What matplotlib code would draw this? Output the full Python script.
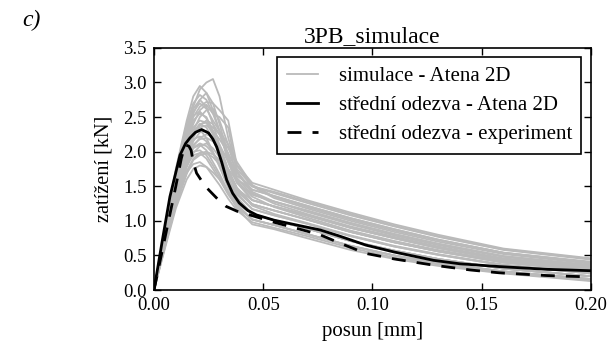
import matplotlib
matplotlib.use('Agg')
import matplotlib.pyplot as plt

plt.rcParams['font.family'] = ['Liberation Serif', 'DejaVu Serif']

# common x grid of the simulation curves [mm]
x_sim = [0, 0.005, 0.010, 0.015, 0.018, 0.021, 0.024, 0.027, 0.030, 0.034,
         0.038, 0.045, 0.055, 0.070, 0.090, 0.110, 0.130, 0.160, 0.200]

# load [kN] of the single simulations
sim_1 = [0, 0.85, 1.65, 2.30, 2.65, 2.90, 3.00, 3.05, 2.80, 2.20, 1.75, 1.50, 1.40, 1.26, 1.08, 0.92, 0.77, 0.58, 0.44]
sim_2 = [0, 0.90, 1.75, 2.45, 2.80, 2.95, 2.85, 2.60, 2.30, 1.85, 1.55, 1.30, 1.21, 1.08, 0.90, 0.75, 0.61, 0.44, 0.32]
sim_3 = [0, 0.80, 1.60, 2.25, 2.55, 2.75, 2.85, 2.70, 2.40, 1.95, 1.62, 1.38, 1.28, 1.15, 0.97, 0.81, 0.67, 0.49, 0.36]
sim_4 = [0, 0.85, 1.70, 2.35, 2.62, 2.75, 2.65, 2.40, 2.10, 1.75, 1.48, 1.24, 1.15, 1.02, 0.84, 0.69, 0.56, 0.40, 0.28]
sim_5 = [0, 0.75, 1.50, 2.10, 2.40, 2.60, 2.68, 2.55, 2.30, 1.90, 1.60, 1.45, 1.36, 1.22, 1.04, 0.88, 0.73, 0.54, 0.40]
sim_6 = [0, 0.80, 1.55, 2.15, 2.45, 2.55, 2.50, 2.30, 2.05, 1.70, 1.40, 1.17, 1.08, 0.96, 0.78, 0.63, 0.51, 0.36, 0.24]
sim_7 = [0, 0.70, 1.45, 2.00, 2.30, 2.50, 2.60, 2.62, 2.45, 2.10, 1.65, 1.50, 1.42, 1.28, 1.10, 0.93, 0.78, 0.59, 0.45]
sim_8 = [0, 0.78, 1.52, 2.08, 2.35, 2.45, 2.42, 2.25, 2.00, 1.62, 1.32, 1.10, 1.01, 0.89, 0.71, 0.57, 0.45, 0.31, 0.20]
sim_9 = [0, 0.72, 1.40, 1.95, 2.20, 2.38, 2.45, 2.40, 2.25, 1.92, 1.58, 1.30, 1.21, 1.08, 0.90, 0.75, 0.61, 0.44, 0.32]
sim_10 = [0, 0.82, 1.58, 2.12, 2.30, 2.32, 2.20, 2.00, 1.78, 1.48, 1.24, 1.02, 0.94, 0.81, 0.64, 0.50, 0.39, 0.27, 0.16]
sim_11 = [0, 0.70, 1.38, 1.90, 2.15, 2.28, 2.30, 2.20, 2.00, 1.70, 1.45, 1.24, 1.15, 1.02, 0.84, 0.69, 0.56, 0.40, 0.28]
sim_12 = [0, 0.75, 1.45, 1.98, 2.18, 2.22, 2.15, 1.98, 1.80, 1.52, 1.30, 1.10, 1.01, 0.89, 0.71, 0.57, 0.45, 0.31, 0.20]
sim_13 = [0, 0.68, 1.32, 1.85, 2.08, 2.20, 2.25, 2.22, 2.10, 1.85, 1.55, 1.38, 1.28, 1.15, 0.97, 0.81, 0.67, 0.49, 0.36]
sim_14 = [0, 0.74, 1.40, 1.88, 2.05, 2.10, 2.02, 1.85, 1.68, 1.42, 1.18, 0.95, 0.88, 0.75, 0.58, 0.45, 0.35, 0.24, 0.13]
sim_15 = [0, 0.65, 1.28, 1.78, 1.98, 2.08, 2.12, 2.05, 1.92, 1.68, 1.42, 1.24, 1.15, 1.02, 0.84, 0.69, 0.56, 0.40, 0.28]
sim_16 = [0, 0.70, 1.35, 1.80, 1.95, 1.98, 1.90, 1.75, 1.60, 1.38, 1.20, 1.02, 0.94, 0.81, 0.64, 0.50, 0.39, 0.27, 0.16]
sim_17 = [0, 0.62, 1.22, 1.68, 1.88, 1.95, 1.98, 1.92, 1.82, 1.60, 1.38, 1.17, 1.08, 0.96, 0.78, 0.63, 0.51, 0.36, 0.24]
sim_18 = [0, 0.66, 1.25, 1.70, 1.82, 1.85, 1.78, 1.65, 1.52, 1.32, 1.15, 0.98, 0.90, 0.78, 0.61, 0.47, 0.37, 0.25, 0.14]
sim_19 = [0, 0.60, 1.18, 1.60, 1.75, 1.80, 1.78, 1.70, 1.60, 1.42, 1.25, 1.10, 1.01, 0.89, 0.71, 0.57, 0.45, 0.31, 0.20]
sim_20 = [0, 0.88, 1.72, 2.40, 2.70, 2.82, 2.75, 2.55, 2.50, 2.35, 1.70, 1.45, 1.36, 1.22, 1.04, 0.88, 0.73, 0.54, 0.40]
sim_21 = [0, 0.78, 1.55, 2.20, 2.50, 2.65, 2.72, 2.70, 2.60, 2.45, 1.80, 1.55, 1.45, 1.30, 1.12, 0.95, 0.80, 0.60, 0.46]
sim_22 = [0, 0.72, 1.42, 2.00, 2.28, 2.40, 2.35, 2.18, 1.95, 1.60, 1.34, 1.10, 1.01, 0.89, 0.71, 0.57, 0.45, 0.31, 0.20]
sim_23 = [0, 0.68, 1.30, 1.82, 2.00, 2.02, 1.95, 1.80, 1.64, 1.40, 1.20, 1.02, 0.94, 0.81, 0.64, 0.50, 0.39, 0.27, 0.16]
sim_24 = [0, 0.80, 1.60, 2.25, 2.52, 2.58, 2.48, 2.28, 2.05, 1.72, 1.46, 1.30, 1.21, 1.08, 0.90, 0.75, 0.61, 0.44, 0.32]
sim_25 = [0, 0.70, 1.38, 1.90, 2.10, 2.18, 2.20, 2.15, 2.05, 1.90, 1.70, 1.40, 1.25, 1.10, 0.92, 0.77, 0.63, 0.46, 0.34]
sim_26 = [0, 0.76, 1.50, 2.05, 2.28, 2.40, 2.42, 2.35, 2.25, 2.05, 1.80, 1.50, 1.33, 1.18, 1.00, 0.84, 0.70, 0.52, 0.38]
sim_27 = [0, 0.64, 1.25, 1.72, 1.90, 1.98, 2.00, 1.96, 1.88, 1.75, 1.58, 1.35, 1.20, 1.05, 0.86, 0.71, 0.58, 0.42, 0.30]
sim_28 = [0, 0.82, 1.62, 2.28, 2.58, 2.70, 2.62, 2.45, 2.30, 2.10, 1.85, 1.52, 1.35, 1.20, 1.02, 0.86, 0.72, 0.54, 0.41]
sim_29 = [0, 0.68, 1.34, 1.86, 2.06, 2.12, 2.08, 1.98, 1.86, 1.66, 1.46, 1.22, 1.10, 0.97, 0.79, 0.64, 0.52, 0.37, 0.25]
sim_30 = [0, 0.74, 1.46, 2.02, 2.25, 2.35, 2.38, 2.30, 2.18, 1.98, 1.72, 1.42, 1.28, 1.13, 0.95, 0.79, 0.65, 0.48, 0.35]

sims = [sim_1, sim_2, sim_3, sim_4, sim_5, sim_6, sim_7, sim_8, sim_9, sim_10,
        sim_11, sim_12, sim_13, sim_14, sim_15, sim_16, sim_17, sim_18, sim_19,
        sim_20, sim_21, sim_22, sim_23, sim_24, sim_25, sim_26, sim_27, sim_28,
        sim_29, sim_30]

# mean response of the simulations
x_mean = [0, 0.004, 0.0073, 0.010, 0.0119, 0.0145, 0.0165, 0.019, 0.0218, 0.025,
          0.027, 0.0287, 0.031, 0.0333, 0.036, 0.039, 0.043, 0.047, 0.055, 0.0668,
          0.076, 0.085, 0.097, 0.110, 0.128, 0.140, 0.158, 0.180, 0.200]
y_mean = [0, 0.75, 1.35, 1.70, 1.95, 2.12, 2.20, 2.28, 2.32, 2.27,
          2.18, 2.07, 1.85, 1.59, 1.40, 1.26, 1.15, 1.085, 1.01, 0.93,
          0.87, 0.78, 0.65, 0.55, 0.43, 0.38, 0.34, 0.30, 0.28]

# mean response of the experiment
x_exp = [0, 0.005, 0.010, 0.0125, 0.0142, 0.016, 0.017, 0.018, 0.0195, 0.022,
         0.025, 0.029, 0.033, 0.038, 0.044, 0.055, 0.0668, 0.076, 0.085, 0.097,
         0.110, 0.128, 0.145, 0.158, 0.180, 0.200]
y_exp = [0, 0.75, 1.50, 1.90, 2.10, 2.08, 2.02, 1.85, 1.69, 1.57,
         1.45, 1.32, 1.21, 1.14, 1.085, 0.98, 0.88, 0.80, 0.68, 0.53,
         0.45, 0.36, 0.29, 0.25, 0.21, 0.19]

fig = plt.figure(figsize=(6.11, 3.47), dpi=100)
ax = fig.add_axes([0.252, 0.164, 0.715, 0.698])

for i, ys in enumerate(sims):
    ax.plot(x_sim, ys, color='#bababa', linewidth=1.3,
            label='simulace - Atena 2D' if i == 0 else None)
ax.plot(x_mean, y_mean, color='black', linewidth=2, label='střední odezva - Atena 2D')
ax.plot(x_exp, y_exp, color='black', linewidth=2, linestyle='--', dashes=(5, 4),
        label='střední odezva - experiment')

ax.set_xlim(0, 0.2)
ax.set_ylim(0, 3.5)
ax.set_xticks([0, 0.05, 0.10, 0.15, 0.20])
ax.set_yticks([0, 0.5, 1.0, 1.5, 2.0, 2.5, 3.0, 3.5])
ax.set_xticklabels(['0.00', '0.05', '0.10', '0.15', '0.20'])
ax.set_yticklabels(['0.0', '0.5', '1.0', '1.5', '2.0', '2.5', '3.0', '3.5'])
ax.tick_params(direction='in', top=True, right=True, length=5, width=1, labelsize=13.5)
ax.tick_params(axis='x', pad=5)
ax.tick_params(axis='y', pad=5)
for s in ax.spines.values():
    s.set_linewidth(1.2)

ax.set_xlabel('posun [mm]', fontsize=15, labelpad=6)
ax.set_ylabel('zatížení [kN]', fontsize=14.6, labelpad=7)
ax.set_title('3PB_simulace', fontsize=17, pad=4)

leg = ax.legend(loc='upper right', fontsize=15, frameon=True, fancybox=False,
                edgecolor='black', framealpha=1, handlelength=1.5, handletextpad=1.0,
                borderpad=0.45, labelspacing=0.45, borderaxespad=0.45)
leg.get_frame().set_linewidth(1.2)

fig.text(0.036, 0.925, 'c)', fontsize=17, style='italic')

fig.savefig('out.png', dpi=100)
